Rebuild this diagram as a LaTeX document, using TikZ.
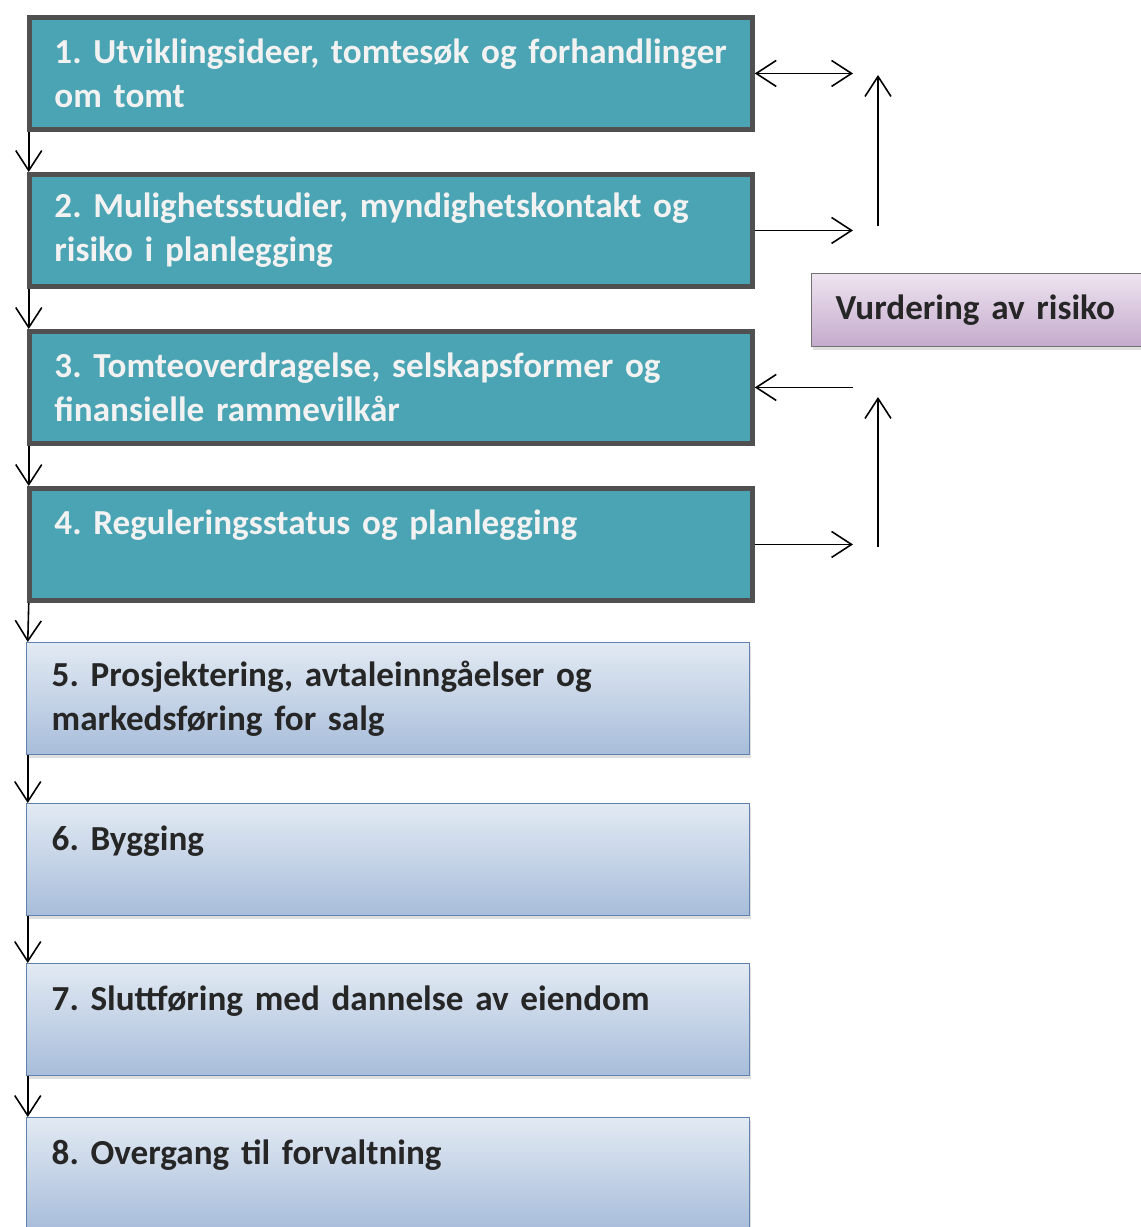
\documentclass[tikz,border=0pt]{standalone}
\usepackage{fontspec}
\setmainfont{Carlito}
\usetikzlibrary{arrows.meta,shadows}

\definecolor{tealfill}{RGB}{74,164,179}
\definecolor{tealedge}{RGB}{80,80,80}
\definecolor{bluetop}{RGB}{226,234,243}
\definecolor{bluebot}{RGB}{168,189,218}
\definecolor{blueedge}{RGB}{95,130,175}
\definecolor{lilatop}{RGB}{238,228,240}
\definecolor{lilabot}{RGB}{196,170,204}
\newcommand{\tightsp}{\frenchspacing\spaceskip=0.16em plus 0.05em\relax}

\begin{document}
\begin{tikzpicture}[x=0.02cm,y=-0.02cm,line width=0.9pt,
    >={Straight Barb[length=0.4cm,width=0.52cm]}]
  \useasboundingbox (0,0) rectangle (1141,1227);
  \tikzstyle{every node}=[rectangle,anchor=north west,align=left,inner xsep=0.5cm,
    text width=13.46cm,minimum height=2.24cm,
    font=\bfseries\fontsize{20}{25}\selectfont\tightsp]
  \tikzstyle{dark}=[draw=tealedge,line width=2.8pt,fill=tealfill,text=white!95!black]
  \tikzstyle{light}=[draw=blueedge,line width=0.8pt,top color=bluetop,bottom color=bluebot,
    text=black!85,drop shadow={opacity=0.25,shadow xshift=0.02cm,shadow yshift=-0.06cm}]
  \tikzstyle{risk}=[draw=black!55,line width=0.8pt,top color=lilatop,bottom color=lilabot,
    text=black!85,text width=6cm,inner xsep=0.48cm,minimum height=1.46cm,
    drop shadow={opacity=0.25,shadow xshift=0.02cm,shadow yshift=-0.06cm}]

%% phases
  \node[dark]  (p1) at (27,15)   {1. Utviklingsideer, tomtesøk og forhandlinger\\om tomt};
  \node[dark]  (p2) at (27,172)  {2. Mulighetsstudier, myndighetskontakt og\\risiko i planlegging};
  \node[dark]  (p3) at (27,329)  {3. Tomteoverdragelse, selskapsformer og\\finansielle rammevilkår};
  \node[dark]  (p4) at (27,486)  {4. Reguleringsstatus og planlegging\\~};
  \node[light] (p5) at (26,642)  {5. Prosjektering, avtaleinngåelser og\\markedsføring for salg};
  \node[light] (p6) at (26,803)  {6. Bygging\\~};
  \node[light] (p7) at (26,963)  {7. Sluttføring med dannelse av eiendom\\~};
  \node[light] (p8) at (26,1117) {8. Overgang til forvaltning\\~};
  \node[risk]  (risk) at (811,273) {\raisebox{3pt}{Vurdering av risiko}};

%% phase -> phase connections
  \foreach \a/\b in {p1/p2,p2/p3,p3/p4,p4/p5,p5/p6,p6/p7,p7/p8}
    \draw[->] ([xshift=1pt]\a.south west) -- ([xshift=1pt]\b.north west);

%% risk connections
  \coordinate (rx) at (853,0);
  \draw[<->] (p1.east) -- (p1.east -| rx);
  \draw[->]  (p2.east) -- (p2.east -| rx);
  \draw[<-]  (p3.east) -- (p3.east -| rx);
  \draw[->]  (p4.east) -- (p4.east -| rx);
  \coordinate (u1) at (878,226);
  \coordinate (t1) at (878,75);
  \coordinate (u2) at (878,547);
  \coordinate (t2) at (878,397);
  \draw[->] (u1) -- (t1);
  \draw[->] (u2) -- (t2);
\end{tikzpicture}
\end{document}
